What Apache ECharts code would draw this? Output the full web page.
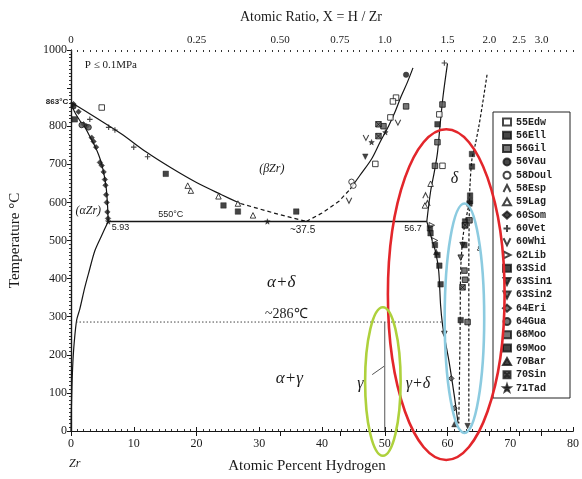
<!DOCTYPE html>
<html>
<head>
<meta charset="utf-8">
<script src="https://cdn.jsdelivr.net/npm/echarts@6/dist/echarts.min.js"></script>
<style>
  html, body { margin: 0; padding: 0; background: #fff; }
  #chart { width: 582px; height: 479px; }
</style>
</head>
<body>
<div id="chart"></div>
<script>
// Zr–H phase diagram (P ≤ 0.1 MPa): phase boundaries plus experimental points.
// x = atomic percent hydrogen, y = temperature in °C.

// ---- top axis: atomic ratio H/Zr ----
const ratioTicks  = [0, 0.25, 0.5, 0.75, 1.0, 1.5, 2.0, 2.5, 3.0];
const ratioLabels = ['0', '0.25', '0.50', '0.75', '1.0', '1.5', '2.0', '2.5', '3.0'];

// ---- phase boundaries [at.% H, °C] ----
const alphaSolvusHigh = [[0,863],[0.5,840],[1.4,815],[2.3,795],[3.1,770],[3.8,748],[4.4,725],[4.9,700],[5.3,670],[5.6,640],[5.8,600],[5.93,550]];
const alphaSolvusLow  = [[5.93,550],[4.8,510],[3.8,473],[2.9,420],[2.2,377],[1.4,320],[0.9,291],[0.5,230],[0.3,180],[0.15,117],[0.05,50],[0,0]];
const betaLeft        = [[0,863],[4,822],[8,780],[12,732],[16,690],[20,652],[24,620],[27,597]];
const betaLeftDashed  = [[27,597],[30,583],[33,569],[37.5,550]];
const betaRightDashed = [[37.5,550],[40,572],[42.7,603],[44.5,635]];
const betaRight       = [[44.5,635],[46,670],[47.9,714],[49.3,760],[50.6,800],[51.7,840],[52.6,878],[53.6,915],[54.5,953]];
const deltaUpper      = [[56.7,550],[57.3,628],[57.9,680],[58.4,730],[58.8,800],[59.3,880],[60.0,965]];
const deltaLower      = [[56.7,550],[57.3,515],[58.1,470],[58.6,420],[58.9,330],[59.2,280],[59.6,240],[60.3,177],[61.1,91],[61.6,31],[61.7,20]];
const epsilonBoundary = [[66.3,935],[65.6,860],[65.0,800],[64.4,750],[63.9,714],[63.6,650],[63.5,600],[63.4,450],[63.4,250],[63.4,20]];
const deltaEpsBoundary= [[63.5,600],[62.8,545],[62.4,500],[62.1,420],[62.0,250],[61.8,20]];
const eutectoid550    = [[5.93,550],[56.7,550]];
const eutectoid286    = [[0.8,286],[59.1,286]];
const gammaLine       = [[50,0],[50,286]];
const gammaLeader     = [[48.0,148],[49.9,170]];

// ---- experimental points [at.% H, °C] ----
const edw55  = [[4.9,849],[51.8,875],[50.9,823],[48.5,701],[51.3,865],[58.7,831],[59.2,696]];
const ell56  = [[0.6,818],[15.1,675],[24.3,592],[26.6,576],[35.9,576],[58.4,805],[63.9,727],[63.6,618],[62.1,291],[63.9,694]];
const gil56  = [[53.4,852],[49.8,800],[58.4,758],[58.0,696],[59.2,857],[63.5,553],[62.7,421]];
const vau56  = [[53.4,935],[0.4,852]];
const doul58 = [[44.7,654],[45.0,644]];
const esp58  = [[56.5,618],[56.8,598]];
const lag59  = [[18.6,644],[19.1,631],[23.5,616],[26.6,597],[29.0,566],[57.3,649],[56.4,592]];
const som60  = [[0.4,858],[1.2,838],[2.0,805],[2.5,800],[3.3,770],[3.6,760],[4.0,745],[4.6,705],[4.9,697],[5.2,680],[5.4,660],[5.5,645],[5.6,620],[5.7,600],[5.8,575],[5.9,558]];
const vet60  = [[3.0,818],[6.0,797],[10.0,745],[12.2,720],[7.0,790],[59.5,966]];
const whi60  = [[52.1,810],[44.3,605],[47.0,770]];
const lib62  = [[57.5,540],[58.0,500]];
const sid63  = [[57.2,532],[57.3,519],[58.0,488],[58.4,462],[58.7,434],[58.9,385]];
const sin63a = [[63.2,13],[46.9,720]];
const sin63b = [[62.4,488],[62.1,455],[59.5,255]];
const eri64  = [[60.6,138],[61.1,60]];
const gua64  = [[2.8,797],[1.7,803]];
const moo68  = [[62.8,397],[63.2,286],[62.8,540]];
const moo69  = [[63.6,603],[63.5,597],[62.8,550],[62.7,488]];
const bar70  = [[61.1,18],[58.2,470]];
const sin70  = [[49.0,805],[62.4,377],[62.8,540],[49.0,774]];
const tad71  = [[31.3,550],[5.93,550],[50.1,784],[47.9,758]];

// ---- highlighted regions: [centre at.%, centre °C, half-width at.%, half-height °C] ----
const highlightRegions = [
  [59.8, 358, 9.3, 434],
  [62.7, 296, 3.15, 301],
  [49.7, 130, 2.83, 195]
];
const highlightColors = ['#e3262b', '#8ccbe0', '#aed13c'];

// ---- text annotations [at.% H, °C, text] ----
const phaseLabels = [
  [2.2, 961, 'P ≤ 0.1MPa'],
  [-0.45, 863, '863°C'],
  [32.0, 688, '(βZr)'],
  [2.75, 577, '(αZr)'],
  [15.9, 569, '550°C'],
  [6.5, 535, '5.93'],
  [36.9, 527, '~37.5'],
  [54.5, 532, '56.7'],
  [61.1, 662, 'δ'],
  [33.5, 390, 'α+δ'],
  [34.3, 306, '~286℃'],
  [34.8, 138, 'α+γ'],
  [46.1, 125, 'γ'],
  [55.3, 125, 'γ+δ'],
  [65.0, 480, 'ε'],
  [0.6, -86, 'Zr']
];

const P = 'path://';
const markerDefs = [
  ['55Edw',  edw55,  'rect', 'open'],
  ['56Ell',  ell56,  'rect', 'solid'],
  ['56Gil',  gil56,  'rect', 'grey'],
  ['56Vau',  vau56,  'circle', 'solid'],
  ['58Doul', doul58, 'circle', 'open'],
  ['58Esp',  esp58,  P + 'M0,10L5,0L10,10', 'stroke'],
  ['59Lag',  lag59,  'triangle', 'open'],
  ['60Som',  som60,  'diamond', 'solid'],
  ['60Vet',  vet60,  P + 'M5,0L5,10M0,5L10,5', 'stroke'],
  ['60Whi',  whi60,  P + 'M0,0L5,10L10,0', 'stroke'],
  ['62Lib',  lib62,  P + 'M0,0L10,5L0,10Z', 'open'],
  ['63Sid',  sid63,  'rect', 'solid'],
  ['63Sin1', sin63a, P + 'M0,0L10,0L5,10Z', 'solid'],
  ['63Sin2', sin63b, P + 'M0,0L10,0L5,10Z', 'grey'],
  ['64Eri',  eri64,  'diamond', 'grey'],
  ['64Gua',  gua64,  'circle', 'grey'],
  ['68Moo',  moo68,  'rect', 'grey'],
  ['69Moo',  moo69,  'rect', 'solid'],
  ['70Bar',  bar70,  'triangle', 'solid'],
  ['70Sin',  sin70,  P + 'M0,0L10,0L10,10L0,10ZM0,0L10,10M10,0L0,10', 'grey'],
  ['71Tad',  tad71,  P + 'M5,0L6.2,3.6L10,3.8L7,6.1L8.1,9.8L5,7.6L1.9,9.8L3,6.1L0,3.8L3.8,3.6Z', 'solid']
];

const ink = '#161616';
const serif = 'Liberation Serif';

function markerStyle(kind) {
  if (kind === 'open')   return { color: '#fff', borderColor: ink, borderWidth: 1 };
  if (kind === 'stroke') return { color: 'rgba(255,255,255,0)', borderColor: ink, borderWidth: 1.1 };
  if (kind === 'grey')   return { color: '#555', borderColor: ink, borderWidth: 1 };
  return { color: ink, borderColor: ink, borderWidth: 0.5 };
}

function boundary(data, dash, extra) {
  return Object.assign({
    type: 'line', data: data, symbol: 'none', silent: true, z: 2,
    lineStyle: { color: ink, width: 1.2, type: dash || 'solid' },
    legendHoverLink: false
  }, extra || {});
}

const series = [
  boundary(alphaSolvusHigh, null, { smooth: 0.3 }),
  boundary(alphaSolvusLow, null, { smooth: 0.3 }),
  boundary(betaLeft, null, { smooth: 0.3 }),
  boundary(betaLeftDashed, [4, 3]),
  boundary(betaRightDashed, [4, 3]),
  boundary(betaRight, null, { smooth: 0.3 }),
  boundary(deltaUpper, null, { smooth: 0.3 }),
  boundary(deltaLower, null, { smooth: 0.3 }),
  boundary(epsilonBoundary, [3, 2], { smooth: 0.3 }),
  boundary(deltaEpsBoundary, [3, 2], { smooth: 0.3 }),
  boundary(eutectoid550, null, { lineStyle: { color: ink, width: 1.4 } }),
  boundary(eutectoid286, null, { lineStyle: { color: '#444', width: 1, type: [1.5, 2] } }),
  boundary(gammaLine, null, { lineStyle: { color: '#555', width: 1 } }),
  boundary(gammaLeader, null, { lineStyle: { color: '#555', width: 1 } })
];

markerDefs.forEach(function (d) {
  series.push({
    name: d[0], type: 'scatter', data: d[1], symbol: d[2], symbolSize: 5.5,
    itemStyle: markerStyle(d[3]), z: 4, silent: true
  });
});

// highlighted regions drawn as ellipses in data coordinates
series.push({
  type: 'custom', silent: true, clip: false, z: 10,
  data: highlightRegions,
  renderItem: function (params, api) {
    const c = api.coord([api.value(0), api.value(1)]);
    const s = api.size([api.value(2), api.value(3)]);
    return {
      type: 'ellipse',
      shape: { cx: c[0], cy: c[1], rx: s[0], ry: s[1] },
      style: { fill: 'none', stroke: highlightColors[params.dataIndex], lineWidth: 2.6 }
    };
  }
});

// phase-field and point labels
const labelStyle = {
  'P ≤ 0.1MPa': { font: '11px ' + serif, align: 'left' },
  '863°C': { font: 'bold 8px ' + 'Liberation Sans', align: 'right' },
  '(βZr)': { font: 'italic 12px ' + serif, align: 'center' },
  '(αZr)': { font: 'italic 12px ' + serif, align: 'center' },
  '550°C': { font: '9px Liberation Sans', align: 'center' },
  '5.93': { font: '9px Liberation Sans', align: 'left' },
  '~37.5': { font: '10px Liberation Sans', align: 'center' },
  '56.7': { font: '9px Liberation Sans', align: 'center' },
  'δ': { font: 'italic 16px ' + serif, align: 'center' },
  'α+δ': { font: 'italic 17px ' + serif, align: 'center' },
  '~286℃': { font: '14px ' + serif, align: 'center' },
  'α+γ': { font: 'italic 17px ' + serif, align: 'center' },
  'γ': { font: 'italic 16px ' + serif, align: 'center' },
  'γ+δ': { font: 'italic 16px ' + serif, align: 'center' },
  'ε': { font: 'italic 10px ' + serif, align: 'center' },
  'Zr': { font: 'italic 12px ' + serif, align: 'center' }
};
series.push({
  type: 'custom', silent: true, clip: false, z: 6,
  data: phaseLabels,
  renderItem: function (params, api) {
    const item = phaseLabels[params.dataIndex];
    const p = api.coord([item[0], item[1]]);
    const st = labelStyle[item[2]];
    return {
      type: 'text', x: p[0], y: p[1],
      style: { text: item[2], font: st.font, fill: '#1a1a1a', align: st.align, verticalAlign: 'middle' }
    };
  }
});

const ratioAtPct = ratioTicks.map(function (r) { return 100 * r / (1 + r); });

const chart = echarts.init(document.getElementById('chart'), null, { renderer: 'canvas' });
chart.setOption({
  animation: false,
  backgroundColor: '#fff',
  grid: { left: 69, right: 5, top: 50, bottom: 44 },
  title: {
    text: 'Atomic Ratio, X = H / Zr', left: 306, top: 5, textAlign: 'center',
    textStyle: { fontFamily: serif, fontSize: 14, fontWeight: 'normal', color: '#1a1a1a' }
  },
  legend: {
    orient: 'vertical', left: 493, top: 112,
    padding: [5, 18, 5, 9], itemGap: 3.3, itemWidth: 8, itemHeight: 7,
    borderColor: '#222', borderWidth: 1, selectedMode: false,
    textStyle: { fontFamily: 'Liberation Mono', fontSize: 10, fontWeight: 'bold', color: '#222' },
    data: markerDefs.map(function (d) { return d[0]; })
  },
  xAxis: [
    {
      type: 'value', min: 0, max: 80, interval: 10, position: 'bottom',
      name: 'Atomic Percent Hydrogen', nameLocation: 'middle', nameGap: 28,
      nameTextStyle: { fontFamily: serif, fontSize: 15, color: '#1a1a1a', padding: [0, 30, 0, 0] },
      axisLine: { lineStyle: { color: ink, width: 1.2 } },
      axisTick: { inside: true, length: 4, lineStyle: { color: ink } },
      minorTick: { show: true, splitNumber: 10, length: 2, lineStyle: { color: '#333' } },
      axisLabel: { fontFamily: serif, fontSize: 12, color: '#1a1a1a', margin: 7 },
      splitLine: { show: false }
    },
    {
      type: 'value', min: 0, max: 80, position: 'top',
      axisLine: { lineStyle: { color: ink, width: 1.2 } },
      axisTick: { inside: true, length: 5, customValues: ratioAtPct, lineStyle: { color: ink } },
      axisLabel: {
        customValues: ratioAtPct, fontFamily: serif, fontSize: 11, color: '#1a1a1a', margin: 4,
        formatter: function (v) {
          let best = 0;
          ratioAtPct.forEach(function (a, i) { if (Math.abs(a - v) < Math.abs(ratioAtPct[best] - v)) best = i; });
          return ratioLabels[best];
        }
      },
      splitLine: { show: false }
    },
    {
      type: 'value', min: 0, max: 80, interval: 1, position: 'top',
      axisLine: { show: false },
      axisTick: { inside: true, length: 2, lineStyle: { color: '#333' } },
      axisLabel: { show: false }, splitLine: { show: false }
    }
  ],
  yAxis: [
    {
      type: 'value', min: 0, max: 1000, interval: 100, position: 'left',
      name: 'Temperature °C', nameLocation: 'middle', nameGap: 48, nameRotate: 90,
      nameTextStyle: { fontFamily: serif, fontSize: 15, color: '#1a1a1a' },
      axisLine: { lineStyle: { color: ink, width: 1.2 } },
      axisTick: { inside: false, length: 4, lineStyle: { color: ink } },
      minorTick: { show: true, splitNumber: 10, length: 2, lineStyle: { color: '#333' } },
      axisLabel: {
        fontFamily: serif, fontSize: 12, color: '#1a1a1a', margin: 4,
        formatter: function (v) { return v === 900 ? '' : String(v); }
      },
      splitLine: { show: false }
    },
    {
      type: 'value', min: 0, max: 1000, interval: 100, position: 'right',
      axisLine: { lineStyle: { color: ink, width: 1.2 } },
      axisTick: { inside: true, length: 4, lineStyle: { color: ink } },
      minorTick: { show: true, splitNumber: 10, length: 2, lineStyle: { color: '#333' } },
      axisLabel: { show: false }, splitLine: { show: false }
    }
  ],
  series: series
});
</script>
</body>
</html>
